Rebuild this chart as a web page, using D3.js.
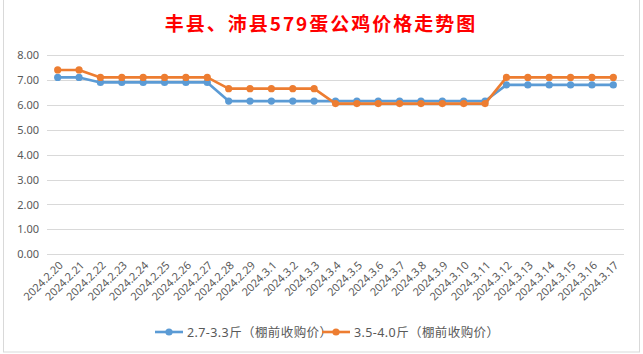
<!DOCTYPE html>
<html>
<head>
<meta charset="utf-8">
<script src="https://cdn.jsdelivr.net/npm/d3@7"></script>
<style>
  body { margin: 0; background: #fff; }
  svg { display: block; }
</style>
</head>
<body>
<div id="chart"></div>
<script>
// chart data
var dates = ["2024.2.20","2024.2.21","2024.2.22","2024.2.23","2024.2.24","2024.2.25","2024.2.26","2024.2.27","2024.2.28","2024.2.29",
  "2024.3.1","2024.3.2","2024.3.3","2024.3.4","2024.3.5","2024.3.6","2024.3.7","2024.3.8","2024.3.9","2024.3.10",
  "2024.3.11","2024.3.12","2024.3.13","2024.3.14","2024.3.15","2024.3.16","2024.3.17"];
var smallPrices = [7.1,7.1,6.9,6.9,6.9,6.9,6.9,6.9,6.15,6.15,6.15,6.15,6.15,6.15,6.15,6.15,6.15,6.15,6.15,6.15,6.15,6.8,6.8,6.8,6.8,6.8,6.8];
var bigPrices = [7.4,7.4,7.1,7.1,7.1,7.1,7.1,7.1,6.65,6.65,6.65,6.65,6.65,6.05,6.05,6.05,6.05,6.05,6.05,6.05,6.05,7.1,7.1,7.1,7.1,7.1,7.1];
var seriesNames = ["2.7-3.3斤（棚前收购价）","3.5-4.0斤（棚前收购价）"];
var yTicks = [0,1,2,3,4,5,6,7,8];
var title = "丰县、沛县579蛋公鸡价格走势图";

var width = 643, height = 354;
var colors = ["#5B9BD5", "#ED7D31"];
var font = "'Noto Sans', 'Noto Sans CJK SC', sans-serif";

var svg = d3.select("#chart").append("svg")
  .attr("width", width)
  .attr("height", height);

// chart area frame
svg.append("rect")
  .attr("x", 3.5).attr("y", -1)
  .attr("width", 636).attr("height", 353)
  .attr("fill", "#fff")
  .attr("stroke", "#d9d9d9");

svg.append("text")
  .attr("x", 321).attr("y", 31)
  .attr("text-anchor", "middle")
  .attr("fill", "#ff0000")
  .attr("font-family", "'Noto Sans CJK SC', sans-serif")
  .attr("font-weight", "bold")
  .attr("font-size", 19)
  .attr("letter-spacing", 2)
  .text(title);

var x = d3.scaleBand()
  .domain(dates)
  .range([47, 624]);

var y = d3.scaleLinear()
  .domain([0, 8])
  .range([254.3, 55]);

// gridlines
svg.append("g")
  .selectAll("line")
  .data(yTicks)
  .enter()
  .append("line")
  .attr("x1", 47).attr("x2", 624)
  .attr("y1", function(d){ return Math.round(y(d)) + 0.5; })
  .attr("y2", function(d){ return Math.round(y(d)) + 0.5; })
  .attr("stroke", "#d9d9d9");

// y axis labels
var yAxis = d3.axisLeft(y).tickValues(yTicks).tickFormat(d3.format(".2f")).tickSize(0).tickPadding(0);
var gy = svg.append("g").attr("transform", "translate(39,0)").call(yAxis);
gy.select(".domain").remove();
gy.selectAll("text")
  .attr("fill", "#595959")
  .attr("font-family", font)
  .attr("font-size", 11);

// x axis labels
var xAxis = d3.axisBottom(x).tickSize(0).tickPadding(0);
var gx = svg.append("g").attr("transform", "translate(0,258)").call(xAxis);
gx.select(".domain").remove();
gx.selectAll("text")
  .attr("fill", "#595959")
  .attr("font-family", font)
  .attr("font-size", 11)
  .attr("text-anchor", "end")
  .attr("dy", 0)
  .attr("y", 0)
  .attr("transform", "translate(6,8) rotate(-45)");

var line = d3.line()
  .x(function(d, i){ return x(dates[i]) + x.bandwidth() / 2; })
  .y(function(d){ return y(d); });

[smallPrices, bigPrices].forEach(function(vals, k){
  svg.append("path")
    .datum(vals)
    .attr("fill", "none")
    .attr("stroke", colors[k])
    .attr("stroke-width", 2.6)
    .attr("stroke-linejoin", "round")
    .attr("d", line);
  svg.append("g")
    .selectAll("circle")
    .data(vals)
    .enter()
    .append("circle")
    .attr("cx", function(d, i){ return x(dates[i]) + x.bandwidth() / 2; })
    .attr("cy", function(d){ return y(d); })
    .attr("r", 3.6)
    .attr("fill", colors[k]);
});

// legend
var legendX = [155, 322];
seriesNames.forEach(function(name, k){
  var g = svg.append("g").attr("transform", "translate(" + legendX[k] + ",332)");
  g.append("line")
    .attr("x1", 0).attr("x2", 28)
    .attr("stroke", colors[k])
    .attr("stroke-width", 2.6);
  g.append("circle").attr("cx", 14).attr("r", 3.6).attr("fill", colors[k]);
  g.append("text")
    .attr("x", 32).attr("y", 4.5)
    .attr("fill", "#595959")
    .attr("font-family", font)
    .attr("font-size", 12.5)
    .attr("letter-spacing", 0.4)
    .text(name);
});
</script>
</body>
</html>
